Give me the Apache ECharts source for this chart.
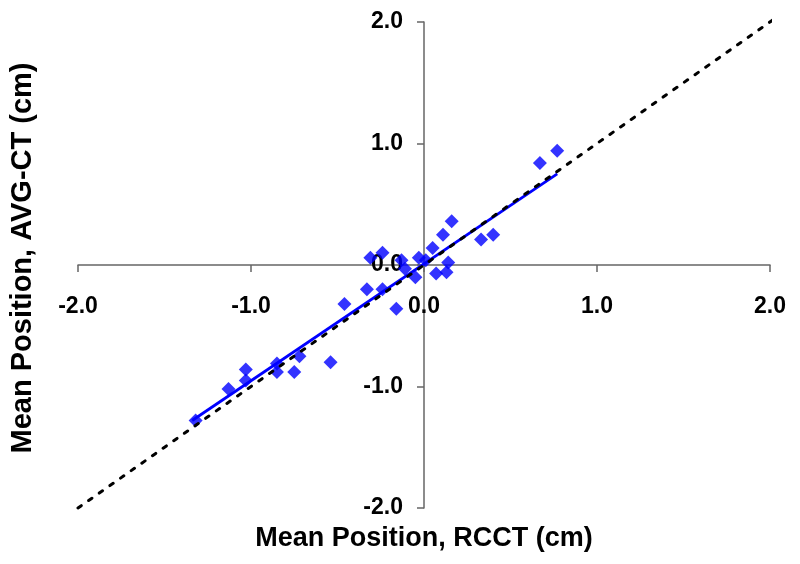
<!DOCTYPE html>
<html>
<head>
<meta charset="utf-8">
<script src="https://cdn.jsdelivr.net/npm/echarts@6/dist/echarts.min.js"></script>
<style>html,body{margin:0;padding:0;background:#fff;}#chart{width:800px;height:564px;}</style>
</head>
<body>
<div id="chart"></div>
<script>
// Measured points: x = mean position RCCT (cm), y = mean position AVG-CT (cm)
const rcct = [-1.32,-1.13,-1.03,-1.03,-0.85,-0.85,-0.75,-0.72,-0.54,-0.46,-0.33,-0.24,-0.16,-0.31,-0.24,-0.13,-0.11,-0.05,-0.03,0.01,0.05,0.11,0.16,0.07,0.14,0.13,0.33,0.40,0.67,0.77];
const avgct = [-1.28,-1.02,-0.86,-0.95,-0.81,-0.88,-0.88,-0.75,-0.80,-0.32,-0.20,-0.20,-0.36,0.06,0.10,0.04,-0.03,-0.10,0.06,0.04,0.14,0.25,0.36,-0.07,0.02,-0.06,0.21,0.25,0.84,0.94];
// Regression line (solid blue) endpoints
const fitX = [-1.34, 0.77];
const fitY = [-1.28, 0.75];
// Line of identity (dashed black)
const idX = [-2.0, 2.05];
const idY = [-2.0, 2.05];
// Axis ticks
const axisMin = -2, axisMax = 2, axisStep = 1;
const xTitle = 'Mean Position, RCCT (cm)';
const yTitle = 'Mean Position, AVG-CT (cm)';

const pts = rcct.map((x, i) => [x, avgct[i]]);
const fitPts = fitX.map((x, i) => [x, fitY[i]]);
const idPts = idX.map((x, i) => [x, idY[i]]);

const W = 800, H = 564;
const G = {left: 78, right: 30, top: 22, bottom: 56};
const gw = W - G.left - G.right, gh = H - G.top - G.bottom;
// place axes through the origin (0 sits at the middle of each symmetric range)
const xOffset = -gh * (0 - axisMin) / (axisMax - axisMin);
const yOffset = -gw * (0 - axisMin) / (axisMax - axisMin);

const FONT = '"Liberation Sans", Arial, sans-serif';
const chart = echarts.init(document.getElementById('chart'), null, {renderer: 'canvas'});
const axisCommon = {
  type: 'value', min: axisMin, max: axisMax, interval: axisStep,
  splitLine: {show: false},
  axisLine: {show: true, onZero: false, lineStyle: {color: '#666666', width: 1.5}},
  axisTick: {show: true, inside: false, length: 7, lineStyle: {color: '#666666', width: 1.5}},
  nameLocation: 'middle'
};
chart.setOption({
  animation: false,
  backgroundColor: '#ffffff',
  grid: Object.assign({containLabel: false, outerBoundsMode: 'none'}, G),
  xAxis: Object.assign({}, axisCommon, {
    position: 'bottom', offset: xOffset,
    name: xTitle, nameGap: 260,
    nameTextStyle: {fontFamily: FONT, fontWeight: 'bold', fontSize: 27, color: '#000'},
    axisLabel: {margin: 30, fontFamily: FONT, fontWeight: 'bold', fontSize: 23, color: '#000',
      formatter: v => v.toFixed(1), showMinLabel: true, showMaxLabel: true}
  }),
  yAxis: Object.assign({}, axisCommon, {
    position: 'left', offset: yOffset,
    name: yTitle, nameGap: 387,
    nameTextStyle: {fontFamily: FONT, fontWeight: 'bold', fontSize: 29, color: '#000', padding: [0, 0, 0, 14]},
    axisLabel: {margin: 21, fontFamily: FONT, fontWeight: 'bold', fontSize: 23, color: '#000',
      formatter: v => v.toFixed(1), showMinLabel: true, showMaxLabel: true}
  }),
  series: [
    {type: 'scatter', data: pts, symbol: 'diamond', symbolSize: 14,
     itemStyle: {color: '#0000ff'}, z: 3},
    {type: 'line', data: fitPts, symbol: 'none', clip: false,
     lineStyle: {color: '#0000ff', width: 2.8}, z: 4},
    {type: 'line', data: idPts, symbol: 'none', clip: false,
     lineStyle: {color: '#000', width: 3, type: [4, 9], cap: 'round'}, z: 5}
  ]
});
</script>
</body>
</html>
